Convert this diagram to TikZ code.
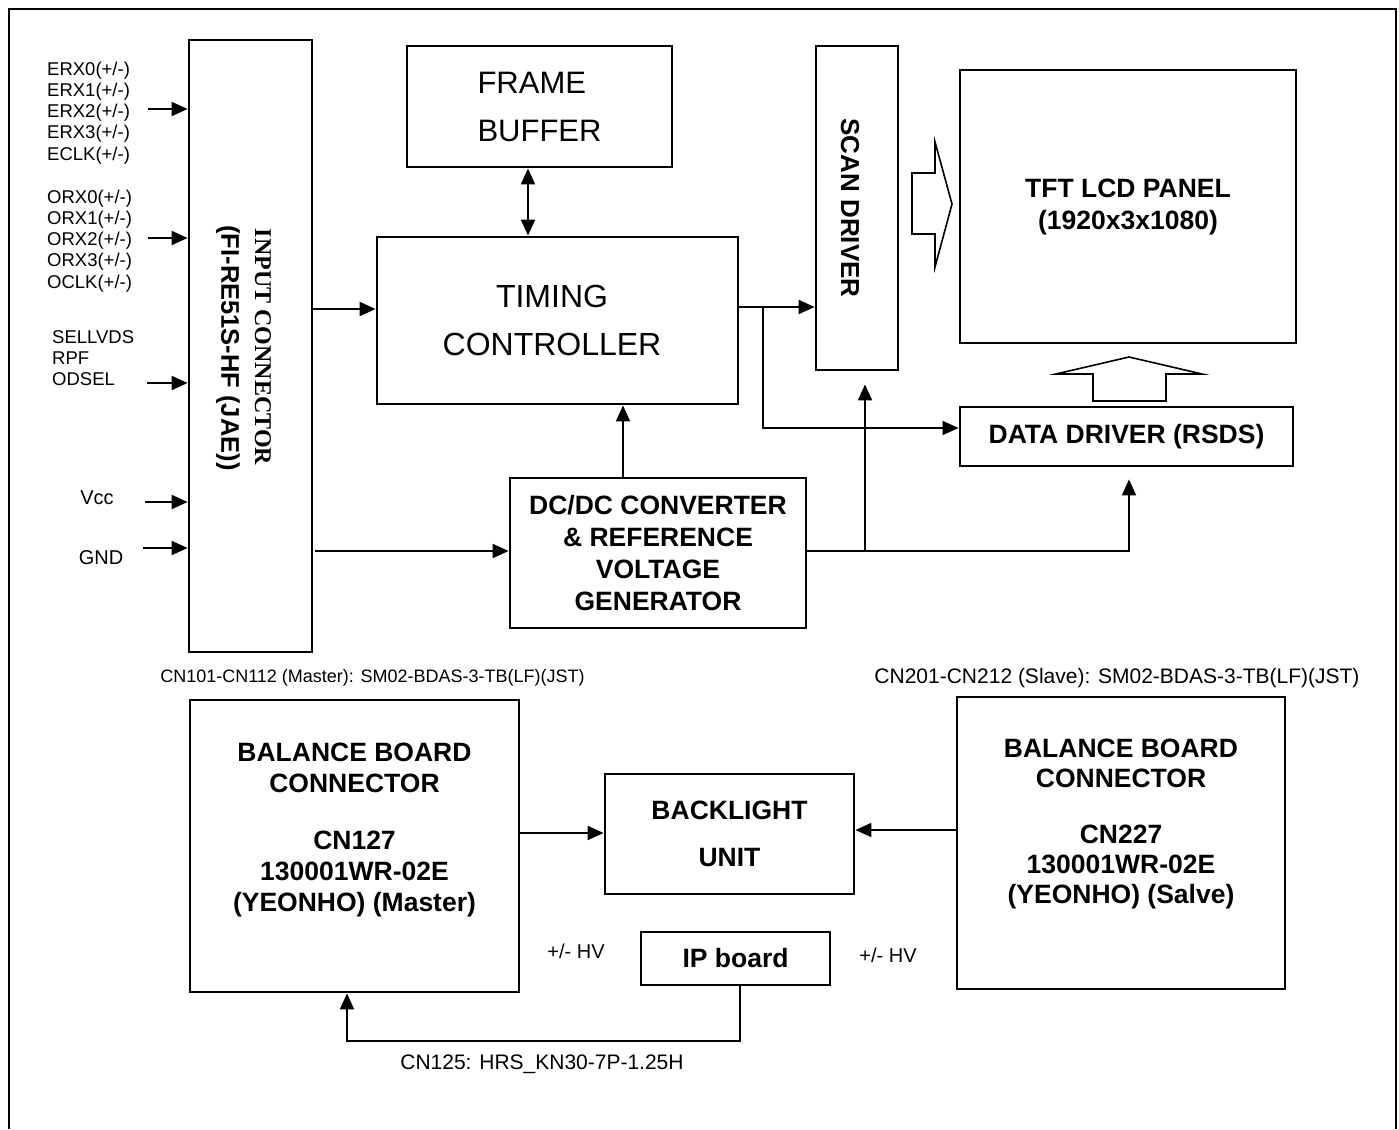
\documentclass[tikz,border=0pt]{standalone}
\usepackage{fontspec}
\setmainfont{Liberation Sans}
\newfontfamily\tnr{Liberation Serif}
\usetikzlibrary{arrows.meta}
\begin{document}
\begin{tikzpicture}[x=1pt,y=-1pt,
  box/.style={draw,line width=2.8pt,inner sep=0pt,font=\bfseries\fontsize{26.5}{32}\selectfont,align=center},
  conn/.style={line width=1.9pt,-{Triangle[length=16pt,width=14pt]}},
  conn2/.style={line width=1.9pt,{Triangle[length=16pt,width=14pt]}-{Triangle[length=16pt,width=14pt]}},
  lbl/.style={font=\fontsize{18.5}{21.2}\selectfont,align=left,inner sep=0pt},
  hollow/.style={line width=1.6pt,line join=miter}]

\useasboundingbox (0,0) rectangle (1399,1129);
\fill[white] (0,0) rectangle (1399,1129);
\draw[line width=2.8pt] (9,1129) -- (9,9) -- (1396,9) -- (1396,1129);

% ---------- boxes ----------
\node[box, minimum width=123pt, minimum height=612pt] (inp) at (250.5,346) {};
\node[box, font=\fontsize{31}{48}\selectfont, align=left, minimum width=265pt, minimum height=121pt] (fb) at (539.5,106.5) {FRAME\\BUFFER};
\node[box, minimum width=361pt, minimum height=167pt] (tc) at (557.5,320.5) {};
\node[font=\fontsize{32}{48}\selectfont, align=center, inner sep=0pt] (tctxt) at (552,320.5) {TIMING\\CONTROLLER};
\node[box, minimum width=82pt, minimum height=324pt] (scan) at (857,208) {};
\node[box, minimum width=336pt, minimum height=273pt] (tft) at (1128,206.5) {TFT LCD PANEL\\(1920x3x1080)};
\node[box, minimum width=333pt, minimum height=59pt] (dd) at (1126.5,436.5) {DATA DRIVER (RSDS)};
\node[box, minimum width=296pt, minimum height=150pt] (dcdc) at (658,553) {DC/DC CONVERTER\\\& REFERENCE\\VOLTAGE\\GENERATOR};
\node[box, minimum width=329pt, minimum height=292pt] (bbl) at (354.5,846) {};
\node[box, font=\bfseries\fontsize{26.5}{47}\selectfont, minimum width=249pt, minimum height=120pt] (bl) at (729.5,834) {BACKLIGHT\\UNIT};
\node[box, minimum width=328pt, minimum height=292pt] (bbr) at (1121,843) {};
\node[box, minimum width=189pt, minimum height=53pt] (ip) at (735.5,958.5) {IP board};

% ---------- texts ----------
\node[font=\tnr\bfseries\fontsize{24}{28}\selectfont, rotate=-90, inner sep=0pt] (inptxt1) at (263,347) {INPUT CONNECTOR};
\node[font=\bfseries\fontsize{25.5}{30}\selectfont, rotate=-90, inner sep=0pt] (inptxt2) at (228,348) {(FI-RE51S-HF (JAE))};
\node[font=\bfseries\fontsize{26}{30}\selectfont, rotate=-90, inner sep=0pt] (scantxt) at (850,208) {SCAN DRIVER};

\node[font=\bfseries\fontsize{26.5}{31}\selectfont, align=center, inner sep=0pt] (bbltxt) at (354.5,830)
  {BALANCE BOARD\\CONNECTOR\\[26pt]CN127\\130001WR-02E\\(YEONHO) (Master)};
\node[font=\bfseries\fontsize{26.5}{30}\selectfont, align=center, inner sep=0pt] (bbrtxt) at (1121,824)
  {BALANCE BOARD\\CONNECTOR\\[26pt]CN227\\130001WR-02E\\(YEONHO) (Salve)};

\node[lbl, anchor=west] (erx) at (47,113) {ERX0(+/-)\\ERX1(+/-)\\ERX2(+/-)\\ERX3(+/-)\\ECLK(+/-)};
\node[lbl, anchor=west] (orx) at (47,241) {ORX0(+/-)\\ORX1(+/-)\\ORX2(+/-)\\ORX3(+/-)\\OCLK(+/-)};
\node[lbl, anchor=west] (sel) at (52,358) {SELLVDS\\RPF\\ODSEL};
\node[font=\fontsize{20}{24}\selectfont, inner sep=0pt] (vcc) at (97,498) {Vcc};
\node[font=\fontsize{20}{24}\selectfont, inner sep=0pt] (gnd) at (101,558) {GND};

\node[font=\fontsize{18}{22}\selectfont, inner sep=0pt] (cn1) at (372.5,678) {CN101-CN112 (Master): SM02-BDAS-3-TB(LF)(JST)};
\node[font=\fontsize{21}{24}\selectfont, inner sep=0pt] (cn2) at (1117,678) {CN201-CN212 (Slave): SM02-BDAS-3-TB(LF)(JST)};
\node[font=\fontsize{20}{24}\selectfont, inner sep=0pt] (hv1) at (576,951) {+/- HV};
\node[font=\fontsize{20}{24}\selectfont, inner sep=0pt] (hv2) at (888,955) {+/- HV};
\node[font=\fontsize{21}{24}\selectfont, inner sep=0pt] (cn125) at (542,1064) {CN125: HRS\_KN30-7P-1.25H};

% ---------- hollow arrows ----------
\draw[hollow] (912,173) -- (935,173) -- (935,142) -- (952,204) -- (935,267) -- (935,234) -- (912,234) -- cycle;
\draw[hollow] (1093,401) -- (1093,374) -- (1056,374) -- (1129,357) -- (1202,374) -- (1166,374) -- (1166,401) -- cycle;

% ---------- coordinates ----------
\coordinate (erxs) at (148,109);
\coordinate (orxs) at (148,238);
\coordinate (sels) at (147,383);
\coordinate (vccs) at (145,502);
\coordinate (gnds) at (143,548);
\coordinate (y309) at (0,309);
\coordinate (y307) at (0,307);
\coordinate (x528) at (528,0);
\coordinate (x623) at (623,0);
\coordinate (br1) at (763,307);
\coordinate (y428) at (0,428);
\coordinate (g1) at (315,551);
\coordinate (x1129) at (1129,0);
\coordinate (br2) at (865,551);
\coordinate (y833) at (0,833);
\coordinate (y830) at (0,830);
\coordinate (c1) at (740,1041);
\coordinate (c2) at (347,1041);

% ---------- connectors ----------
\draw[conn] (erxs) -- (erxs -| inp.west);
\draw[conn] (orxs) -- (orxs -| inp.west);
\draw[conn] (sels) -- (sels -| inp.west);
\draw[conn] (vccs) -- (vccs -| inp.west);
\draw[conn] (gnds) -- (gnds -| inp.west);

\draw[conn] (inp.east |- y309) -- (tc.west |- y309);
\draw[conn2] (fb.south -| x528) -- (tc.north -| x528);
\draw[conn] (tc.east |- y307) -- (scan.west |- y307);
\draw[conn] (br1) |- (dd.west |- y428);
\draw[conn] (dcdc.north -| x623) -- (tc.south -| x623);
\draw[conn] (g1) -- (dcdc.west |- g1);
\draw[conn, shorten >=12pt] (dcdc.east |- g1) -| (dd.south -| x1129);
\draw[conn, shorten >=13pt] (br2) -- (scan.south -| br2);

\draw[conn] (bbl.east |- y833) -- (bl.west |- y833);
\draw[conn] (bbr.west |- y830) -- (bl.east |- y830);
\draw[conn] (ip.south -| c1) -- (c1) -- (c2) -- (bbl.south -| c2);
\end{tikzpicture}
\end{document}
